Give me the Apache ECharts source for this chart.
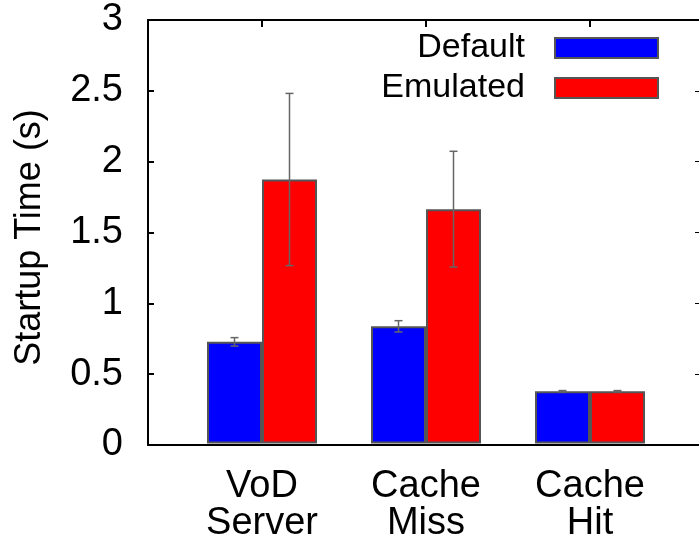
<!DOCTYPE html>
<html>
<head>
<meta charset="utf-8">
<script src="https://cdn.jsdelivr.net/npm/echarts@6/dist/echarts.min.js"></script>
<style>
html, body { margin: 0; padding: 0; background: #fff; }
#chart { width: 699px; height: 543px; }
</style>
</head>
<body>
<div id="chart"></div>
<script>
const categories = ['VoD\nServer', 'Cache\nMiss', 'Cache\nHit']
const seriesNames = ['Default', 'Emulated']
const defaultTime = [0.72, 0.83, 0.37]
const defaultErr = [0.03, 0.04, 0.005]
const emulatedTime = [1.87, 1.66, 0.37]
const emulatedErr = [0.61, 0.41, 0.005]
const yMin = 0
const yMax = 3
const yStep = 0.5

const font = "'Liberation Sans', Arial, Helvetica, sans-serif"
const chart = echarts.init(document.getElementById('chart'))

// error bar points: [category, value, err, which series]
let errData = []
defaultTime.map((v, i) => errData.push([i, v, defaultErr[i], 0]))
emulatedTime.map((v, i) => errData.push([i, v, emulatedErr[i], 1]))

const renderErr = (params, api) => {
	const i = api.value(0)
	const v = api.value(1)
	const e = api.value(2)
	const off = (api.value(3) === 0 ? -1 : 1) * 27.5
	const hi = api.coord([i, v + e])
	const lo = api.coord([i, v - e])
	const x = hi[0] + off
	const style = { stroke: '#666', lineWidth: 1.5 }
	return {
		type: 'group',
		children: [
			{ type: 'line', shape: { x1: x, y1: hi[1], x2: x, y2: lo[1] }, style },
			{ type: 'line', shape: { x1: x - 4, y1: hi[1], x2: x + 4, y2: hi[1] }, style },
			{ type: 'line', shape: { x1: x - 4, y1: lo[1], x2: x + 4, y2: lo[1] }, style }
		]
	}
}

// mirrored x ticks on the top border
const renderTopTick = (params, api) => {
	const p = api.coord([api.value(0), api.value(1)])
	return {
		type: 'group',
		children: [
			{ type: 'rect', shape: { x: p[0] - 1, y: p[1], width: 2, height: 7 }, style: { fill: '#000' } }
		]
	}
}

const option = {
	animation: false,
	textStyle: { fontFamily: font },
	grid: [
		{ left: 148, right: -3, top: 20, bottom: 98 },
		{ left: 180, right: 27, top: 20, bottom: 98 }
	],
	legend: {
		data: seriesNames,
		orient: 'vertical',
		right: 35,
		top: 26,
		align: 'right',
		icon: 'rect',
		itemWidth: 103,
		itemHeight: 20,
		itemGap: 6,
		textStyle: { fontSize: 34, color: '#000', fontFamily: font, padding: [0, 25, 0, 0] }
	},
	xAxis: [
		{ gridIndex: 0, type: 'value', min: 0, max: 1, position: 'bottom',
			axisLine: { onZero: false, lineStyle: { color: '#000', width: 2 } }, axisTick: { show: false },
			axisLabel: { show: false }, splitLine: { show: false } },
		{ gridIndex: 0, type: 'value', min: 0, max: 1, position: 'top',
			axisLine: { onZero: false, lineStyle: { color: '#000', width: 2 } }, axisTick: { show: false },
			axisLabel: { show: false }, splitLine: { show: false } },
		{ gridIndex: 1, type: 'category', data: categories, position: 'bottom',
			axisLine: { show: false, onZero: false }, axisTick: { show: false },
			axisLabel: { fontSize: 38, lineHeight: 37, color: '#000', margin: 25, fontFamily: font } }
	],
	yAxis: [
		{ gridIndex: 0, type: 'value', min: yMin, max: yMax, interval: yStep, position: 'left',
			name: 'Startup Time (s)', nameLocation: 'middle', nameGap: 100,
			nameTextStyle: { fontSize: 36, color: '#000', fontFamily: font, padding: [0, 10, 0, 0] },
			axisLine: { show: true, onZero: false, lineStyle: { color: '#000', width: 2 } },
			axisTick: { inside: true, length: 6, lineStyle: { color: '#000', width: 2 } },
			axisLabel: { fontSize: 38, color: '#000', margin: 25, fontFamily: font },
			splitLine: { show: false } },
		{ gridIndex: 0, type: 'value', min: yMin, max: yMax, interval: yStep, position: 'right',
			axisLine: { show: false, onZero: false },
			axisTick: { inside: true, length: 4, lineStyle: { color: '#000', width: 1 } },
			axisLabel: { show: false }, splitLine: { show: false } },
		{ gridIndex: 1, type: 'value', min: yMin, max: yMax, show: false, splitLine: { show: false } }
	],
	series: [
		{
			name: seriesNames[0], type: 'bar', xAxisIndex: 2, yAxisIndex: 2,
			data: defaultTime, barWidth: 55, barGap: '0%',
			itemStyle: { color: '#0000ff', borderColor: '#555', borderWidth: 2 }
		},
		{
			name: seriesNames[1], type: 'bar', xAxisIndex: 2, yAxisIndex: 2,
			data: emulatedTime, barWidth: 55, barGap: '0%',
			itemStyle: { color: '#ff0000', borderColor: '#555', borderWidth: 2 }
		},
		{
			type: 'custom', xAxisIndex: 2, yAxisIndex: 2, z: 5,
			renderItem: renderErr, data: errData
		},
		{
			type: 'custom', xAxisIndex: 2, yAxisIndex: 2, z: 6, silent: true, clip: false,
			renderItem: renderTopTick, data: categories.map((c, i) => [i, yMax])
		}
	]
}
chart.setOption(option)
</script>
</body>
</html>
